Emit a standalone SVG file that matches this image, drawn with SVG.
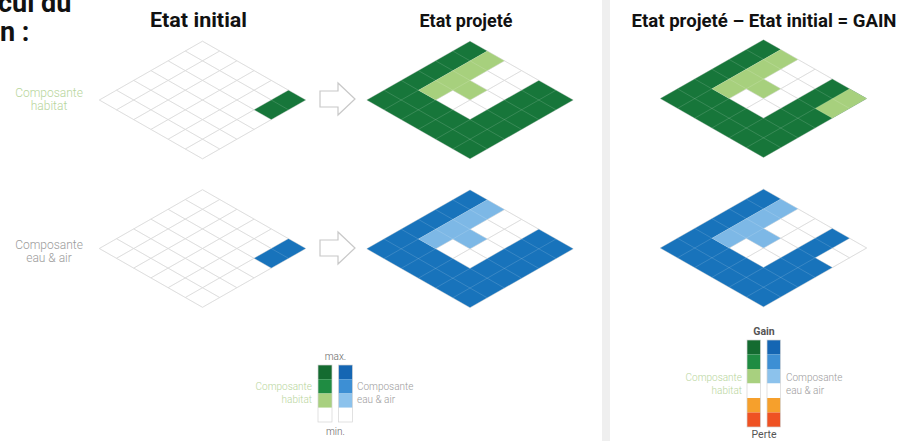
<svg xmlns="http://www.w3.org/2000/svg" width="917" height="441" viewBox="0 0 917 441">
<style>
text{font-family:Roboto,"Liberation Sans",sans-serif}
.h{font-weight:700;fill:#111}
.gl{fill:none;stroke:#cfcfcf;stroke-width:0.8}
.hl{fill:none;stroke:#fff;stroke-opacity:0.18;stroke-width:0.8}
.wh{fill:#fff}
.dg{fill:#17763a}.lg{fill:#a7d07d}
.db{fill:#1873bb}.lb{fill:#7db8e6}
.lab{font-weight:300;font-size:12px}
.lg-t{fill:#b7d59c}.bl-t{fill:#9b9b9b}
.leg{font-weight:300;font-size:10px}
.arr{fill:#fff;stroke:#c8c8c8;stroke-width:1.2;stroke-linejoin:miter}
.bar{fill:none;stroke:#d4d4d4;stroke-width:0.7}
</style>
<defs>
<polygon id="diamond" points="0,0 103.2,58.8 0,117.6 -103.2,58.8"/>
<path id="lines" d="M0,0L-103.2,58.8M17.2,9.8L-86,68.6M34.4,19.6L-68.8,78.4M51.6,29.4L-51.6,88.2M68.8,39.2L-34.4,98M86,49L-17.2,107.8M103.2,58.8L0,117.6M0,0L103.2,58.8M-17.2,9.8L86,68.6M-34.4,19.6L68.8,78.4M-51.6,29.4L51.6,88.2M-68.8,39.2L34.4,98M-86,49L17.2,107.8M-103.2,58.8L0,117.6"/>
<polygon id="cShape" points="0,0 17.2,9.8 -51.6,49 0,78.4 68.8,39.2 103.2,58.8 0,117.6 -103.2,58.8"/>
<polygon id="cShape2" points="0,0 17.2,9.8 -51.6,49 0,78.4 68.8,39.2 86,49 51.6,68.6 68.8,78.4 0,117.6 -103.2,58.8"/>
<polygon id="lShape" points="17.2,9.8 34.4,19.6 0,39.2 17.2,49 0,58.8 -17.2,49 -34.4,58.8 -51.6,49"/>
<polygon id="corner" points="86,49 103.2,58.8 68.8,78.4 51.6,68.6"/>
<path id="arrow" d="M320,91H338V83L355,99L338,115V107H320Z"/>
</defs>
<rect x="0" y="0" width="917" height="441" fill="#fff"/>
<rect x="602" y="0" width="8" height="441" fill="#efefef"/>

<text class="h" x="-2" y="12" font-size="27">cul du</text>
<text class="h" x="0" y="41" font-size="27">n :</text>

<text class="h" x="198.5" y="27" font-size="20" text-anchor="middle" textLength="97" lengthAdjust="spacingAndGlyphs">Etat initial</text>
<text class="h" x="466" y="27" font-size="18" text-anchor="middle" textLength="93" lengthAdjust="spacingAndGlyphs">Etat projeté</text>
<text class="h" x="764" y="27" font-size="18.6" text-anchor="middle" textLength="265" lengthAdjust="spacingAndGlyphs">Etat projeté – Etat initial = GAIN</text>

<g id="label-habitat">
<text class="lab lg-t" x="49" y="97" text-anchor="middle">Composante</text>
<text class="lab lg-t" x="49" y="110" text-anchor="middle">habitat</text>
</g>
<g id="label-eau">
<text class="lab bl-t" x="49" y="249" text-anchor="middle">Composante</text>
<text class="lab bl-t" x="49" y="262" text-anchor="middle">eau &amp; air</text>
</g>

<g id="habitat-initial" transform="translate(202.5,41.2)">
<use href="#diamond" class="wh"/><use href="#lines" class="gl"/>
<use href="#corner" class="dg"/><use href="#lines" class="hl"/>
</g>
<g id="habitat-projete" transform="translate(470,41.2)">
<use href="#diamond" class="wh"/><use href="#lines" class="gl"/>
<use href="#cShape" class="dg"/><use href="#lShape" class="lg"/><use href="#lines" class="hl"/>
</g>
<g id="habitat-gain" transform="translate(763.5,39.8)">
<use href="#diamond" class="wh"/><use href="#lines" class="gl"/>
<use href="#cShape" class="dg"/><use href="#lShape" class="lg"/><use href="#corner" class="lg"/><use href="#lines" class="hl"/>
</g>
<g id="eau-initial" transform="translate(202.5,189.7)">
<use href="#diamond" class="wh"/><use href="#lines" class="gl"/>
<use href="#corner" class="db"/><use href="#lines" class="hl"/>
</g>
<g id="eau-projete" transform="translate(470,190)">
<use href="#diamond" class="wh"/><use href="#lines" class="gl"/>
<use href="#cShape" class="db"/><use href="#lShape" class="lb"/><use href="#lines" class="hl"/>
</g>
<g id="eau-gain" transform="translate(763.5,189.2)">
<use href="#diamond" class="wh"/><use href="#lines" class="gl"/>
<use href="#cShape2" class="db"/><use href="#lShape" class="lb"/><use href="#lines" class="hl"/>
</g>

<g id="connectors">
<use href="#arrow" class="arr"/>
<use href="#arrow" class="arr" transform="translate(0,149)"/>
</g>

<g id="legend-etat">
<text class="leg" x="335.5" y="360" text-anchor="middle" fill="#666">max.</text>
<text class="leg" x="335.5" y="435" text-anchor="middle" fill="#666">min.</text>
<rect x="318" y="365" width="14" height="14.25" fill="#146b30"/>
<rect x="318" y="379.25" width="14" height="14.25" fill="#1f8c42"/>
<rect x="318" y="393.5" width="14" height="14.25" fill="#a8d07f"/>
<rect x="318" y="407.75" width="14" height="14.25" fill="#fff"/>
<rect x="318" y="365" width="14" height="57" class="bar"/>
<rect x="338.5" y="365" width="14" height="14.25" fill="#1566b3"/>
<rect x="338.5" y="379.25" width="14" height="14.25" fill="#3d8fd4"/>
<rect x="338.5" y="393.5" width="14" height="14.25" fill="#8cc2ec"/>
<rect x="338.5" y="407.75" width="14" height="14.25" fill="#fff"/>
<rect x="338.5" y="365" width="14" height="57" class="bar"/>
<text class="leg lg-t" x="312" y="390" text-anchor="end">Composante</text>
<text class="leg lg-t" x="312" y="402.5" text-anchor="end">habitat</text>
<text class="leg bl-t" x="357" y="390">Composante</text>
<text class="leg bl-t" x="357" y="402.5">eau &amp; air</text>
</g>

<g id="legend-gain">
<text x="764" y="335" text-anchor="middle" font-size="10.5" font-weight="700" fill="#555">Gain</text>
<text x="764" y="438" text-anchor="middle" font-size="10.5" fill="#555">Perte</text>
<rect x="747" y="340" width="13.5" height="14.5" fill="#146b30"/>
<rect x="747" y="354.5" width="13.5" height="14.5" fill="#1f8c42"/>
<rect x="747" y="369" width="13.5" height="14.5" fill="#a8d07f"/>
<rect x="747" y="383.5" width="13.5" height="14.5" fill="#fff"/>
<rect x="747" y="398" width="13.5" height="14.5" fill="#f6a02c"/>
<rect x="747" y="412.5" width="13.5" height="14.5" fill="#ef5223"/>
<rect x="747" y="340" width="13.5" height="87" class="bar"/>
<rect x="767" y="340" width="13.5" height="14.5" fill="#1566b3"/>
<rect x="767" y="354.5" width="13.5" height="14.5" fill="#3d8fd4"/>
<rect x="767" y="369" width="13.5" height="14.5" fill="#8cc2ec"/>
<rect x="767" y="383.5" width="13.5" height="14.5" fill="#fff"/>
<rect x="767" y="398" width="13.5" height="14.5" fill="#f6a02c"/>
<rect x="767" y="412.5" width="13.5" height="14.5" fill="#ef5223"/>
<rect x="767" y="340" width="13.5" height="87" class="bar"/>
<text class="leg lg-t" x="742" y="381" text-anchor="end">Composante</text>
<text class="leg lg-t" x="742" y="393.5" text-anchor="end">habitat</text>
<text class="leg bl-t" x="786" y="381">Composante</text>
<text class="leg bl-t" x="786" y="393.5">eau &amp; air</text>
</g>
</svg>
